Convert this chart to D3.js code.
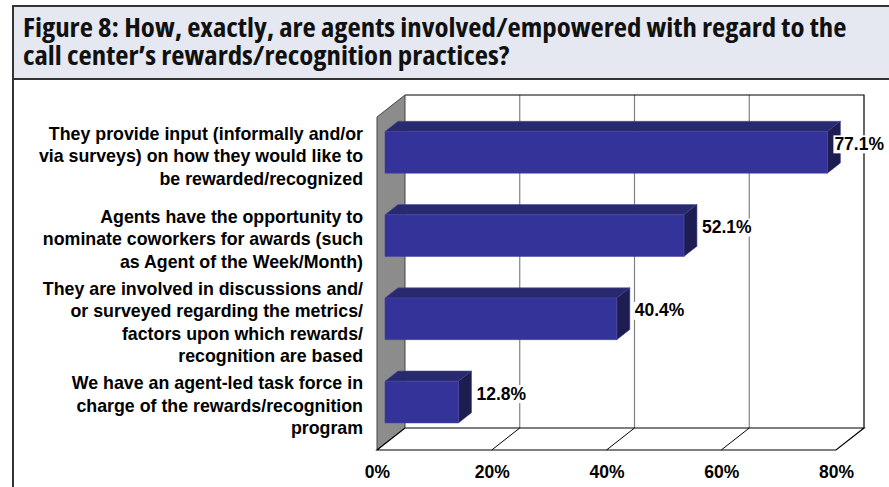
<!DOCTYPE html>
<html>
<head>
<meta charset="utf-8">
<script src="https://cdn.jsdelivr.net/npm/d3@7"></script>
<style>
  html, body { margin: 0; padding: 0; background: #fff; }
  svg { display: block; }
</style>
</head>
<body>
<svg id="chart" width="889" height="487"></svg>
<script>
// ---- data ----
const titleLines = [
  "Figure 8: How, exactly, are agents involved/empowered with regard to the",
  "call center\u2019s rewards/recognition practices?"
];
const categories = [
  "They provide input (informally and/or via surveys) on how they would like to be rewarded/recognized",
  "Agents have the opportunity to nominate coworkers for awards (such as Agent of the Week/Month)",
  "They are involved in discussions and/or surveyed regarding the metrics/factors upon which rewards/recognition are based",
  "We have an agent-led task force in charge of the rewards/recognition program"
];
const categoryLines = [
  ["They provide input (informally and/or", "via surveys) on how they would like to", "be rewarded/recognized"],
  ["Agents have the opportunity to", "nominate coworkers for awards (such", "as Agent of the Week/Month)"],
  ["They are involved in discussions and/", "or surveyed regarding the metrics/", "factors upon which rewards/", "recognition are based"],
  ["We have an agent-led task force in", "charge of the rewards/recognition", "program"]
];
const values = [77.1, 52.1, 40.4, 12.8];
const tickValues = [0, 20, 40, 60, 80];

// ---- layout ----
const svg = d3.select("#chart");
const chartFont = "'Liberation Sans', Arial, Helvetica, sans-serif";

// title box
svg.append("rect")
  .attr("x", 13).attr("y", 6).attr("width", 900).attr("height", 73)
  .attr("fill", "#e5e8f0").attr("stroke", "#333").attr("stroke-width", 2);
// chart panel border (left edge)
svg.append("line")
  .attr("x1", 13).attr("x2", 13).attr("y1", 79).attr("y2", 490)
  .attr("stroke", "#333").attr("stroke-width", 2);

const titleG = svg.append("g");
const titleText = titleG.selectAll("text").data(titleLines).join("text")
  .attr("x", 0)
  .attr("y", (d, i) => 37 + i * 28)
  .attr("font-family", "'Open Sans', 'DejaVu Sans', sans-serif")
  .attr("font-weight", 700)
  .attr("font-size", 27)
  .style("font-stretch", "75%")
  .attr("fill", "#111")
  .text(d => d);
const firstW = titleText.node().getComputedTextLength();
const titleScale = 824 / firstW;
titleG.attr("transform", `translate(23,0) scale(${titleScale},1)`);

// 3D frame: front plane of the plot and depth projection
const frontPlane = { x0: 377, x1: 836, y0: 117, y1: 450 };
const depth = { dx: 28, dy: 22 };
const P = (px, py, z) => [px + z * depth.dx, py - z * depth.dy];

const x = d3.scaleLinear().domain([0, 80]).range([frontPlane.x0, frontPlane.x1]);
const y = d3.scaleBand().domain(categories)
  .range([frontPlane.y0, frontPlane.y1])
  .paddingInner(0.5).paddingOuter(0.25);

const poly = pts => "M" + pts.map(p => p.join(",")).join("L") + "Z";
const plot = svg.append("g");

// back wall
const bw0 = P(x(0), frontPlane.y0, 1), bw1 = P(x(80), frontPlane.y1, 1);
plot.append("rect")
  .attr("x", bw0[0]).attr("y", bw0[1])
  .attr("width", bw1[0] - bw0[0]).attr("height", bw1[1] - bw0[1])
  .attr("fill", "#fff");
plot.selectAll("line.grid").data(tickValues.slice(1, -1)).join("line")
  .attr("class", "grid")
  .attr("x1", d => P(x(d), frontPlane.y0, 1)[0])
  .attr("x2", d => P(x(d), frontPlane.y1, 1)[0])
  .attr("y1", bw0[1]).attr("y2", bw1[1])
  .attr("stroke", "#808080").attr("stroke-width", 1.2);
plot.append("path")
  .attr("d", "M" + [bw0[0], bw0[1]] + "L" + [bw1[0], bw0[1]] + "L" + [bw1[0], bw1[1]])
  .attr("fill", "none").attr("stroke", "#000").attr("stroke-width", 1.2);

// side wall
plot.append("path")
  .attr("d", poly([
    P(x(0), frontPlane.y0, 0), P(x(0), frontPlane.y0, 1),
    P(x(0), frontPlane.y1, 1), P(x(0), frontPlane.y1, 0)
  ]))
  .attr("fill", "#8c8c8c").attr("stroke", "#444").attr("stroke-width", 1);

// floor
plot.append("path")
  .attr("d", poly([
    P(x(0), frontPlane.y1, 0), P(x(80), frontPlane.y1, 0),
    P(x(80), frontPlane.y1, 1), P(x(0), frontPlane.y1, 1)
  ]))
  .attr("fill", "#fff").attr("stroke", "#000").attr("stroke-width", 1.2);
plot.selectAll("line.floor").data(tickValues.slice(1, -1)).join("line")
  .attr("class", "floor")
  .attr("x1", d => P(x(d), frontPlane.y1, 0)[0])
  .attr("y1", d => P(x(d), frontPlane.y1, 0)[1])
  .attr("x2", d => P(x(d), frontPlane.y1, 1)[0])
  .attr("y2", d => P(x(d), frontPlane.y1, 1)[1])
  .attr("stroke", "#000").attr("stroke-width", 1);

// bars
const zFront = 8 / 28, zBack = 21 / 28;
const bh = y.bandwidth();
const barG = plot.selectAll("g.bar")
  .data(values.map((v, i) => ({ v, c: categories[i] })))
  .join("g").attr("class", "bar");
barG.append("path") // top face
  .attr("d", d => poly([
    P(x(0), y(d.c), zFront), P(x(d.v), y(d.c), zFront),
    P(x(d.v), y(d.c), zBack), P(x(0), y(d.c), zBack)
  ]))
  .attr("fill", "#29296f").attr("stroke", "#4a4a99").attr("stroke-width", 0.6);
barG.append("path") // end face
  .attr("d", d => poly([
    P(x(d.v), y(d.c), zFront), P(x(d.v), y(d.c), zBack),
    P(x(d.v), y(d.c) + bh, zBack), P(x(d.v), y(d.c) + bh, zFront)
  ]))
  .attr("fill", "#1d1d52").attr("stroke", "#3a3a88").attr("stroke-width", 0.6);
barG.append("path") // front face
  .attr("d", d => poly([
    P(x(0), y(d.c), zFront), P(x(d.v), y(d.c), zFront),
    P(x(d.v), y(d.c) + bh, zFront), P(x(0), y(d.c) + bh, zFront)
  ]))
  .attr("fill", "#333399").attr("stroke", "#4444a0").attr("stroke-width", 0.6);

// value labels
const labelG = svg.append("g");
values.forEach((v, i) => {
  const c = categories[i];
  const endRight = P(x(v), y(c), zBack)[0];
  const midY = P(x(v), y(c) + bh / 2, zFront)[1];
  const g = labelG.append("g");
  const t = g.append("text")
    .attr("font-family", chartFont).attr("font-weight", 700)
    .attr("font-size", 17.5).attr("fill", "#000")
    .attr("y", midY - 2.5)
    .text(v.toFixed(1) + "%");
  const w = t.node().getComputedTextLength();
  const lx = Math.min(endRight + 5, 884 - w);
  t.attr("x", lx);
  g.insert("rect", "text")
    .attr("x", lx - 1).attr("y", midY - 17)
    .attr("width", w + 2).attr("height", 18)
    .attr("fill", "#fff");
});

// category labels
const catG = svg.append("g");
categories.forEach((c, i) => {
  const lines = categoryLines[i];
  const center = y(c) + bh / 2 - 3;
  const lh = 22.5;
  catG.append("text")
    .attr("font-family", chartFont).attr("font-weight", 700)
    .attr("font-size", 17.8).attr("fill", "#000")
    .attr("text-anchor", "end")
    .selectAll("tspan").data(lines).join("tspan")
    .attr("x", 363)
    .attr("y", (d, j) => center + (j - (lines.length - 1) / 2) * lh + 6.4)
    .text(d => d);
});

// value axis along the front edge of the floor
const axis = d3.axisBottom(x).tickValues(tickValues)
  .tickFormat(d => d + "%").tickSize(0).tickPadding(15.5);
const axisG = svg.append("g")
  .attr("transform", `translate(0,${frontPlane.y1})`)
  .call(axis);
axisG.select(".domain").remove();
axisG.selectAll("text")
  .attr("font-family", chartFont).attr("font-weight", 700)
  .attr("font-size", 17.5).attr("fill", "#000");
</script>
</body>
</html>
